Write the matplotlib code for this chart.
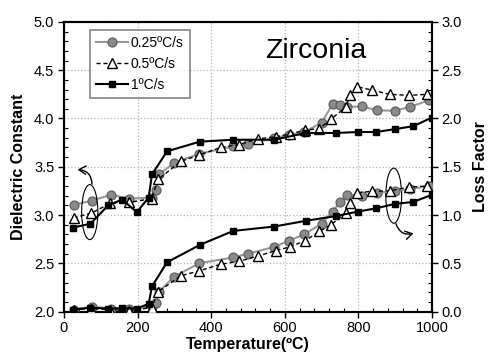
import matplotlib
matplotlib.use("Agg")
import matplotlib.pyplot as plt
from matplotlib.patches import Ellipse, FancyArrowPatch
from matplotlib.ticker import MultipleLocator, FormatStrFormatter
from matplotlib.lines import Line2D

plt.rcParams['font.family'] = ['Liberation Sans', 'DejaVu Sans']

# 0.25 C/s (circles)
t_025 = [26, 77, 128, 177, 238, 250, 258, 299, 368, 459, 501, 572, 612, 653, 700, 730, 750, 768, 810, 850, 899, 940, 993]
eps_025 = [3.105, 3.15, 3.21, 3.17, 3.18, 3.26, 3.42, 3.54, 3.635, 3.71, 3.74, 3.795, 3.83, 3.86, 3.955, 4.15, 4.135, 4.12, 4.125, 4.085, 4.08, 4.12, 4.19]
loss_025 = [0.02, 0.05, 0.03, 0.03, 0.05, 0.09, 0.205, 0.36, 0.50, 0.56, 0.60, 0.67, 0.735, 0.80, 0.91, 1.035, 1.13, 1.21, 1.20, 1.23, 1.245, 1.27, 1.30]

# 0.5 C/s (triangles)
t_05 = [26, 74, 126, 176, 238, 256, 317, 366, 426, 476, 527, 575, 614, 656, 694, 726, 767, 776, 796, 836, 885, 938, 987]
eps_05 = [2.97, 3.02, 3.12, 3.13, 3.17, 3.37, 3.555, 3.62, 3.70, 3.73, 3.79, 3.81, 3.84, 3.88, 3.895, 3.995, 4.12, 4.245, 4.33, 4.295, 4.25, 4.24, 4.25]
loss_05 = [0.02, 0.03, 0.02, 0.01, 0.04, 0.205, 0.37, 0.42, 0.49, 0.52, 0.575, 0.63, 0.67, 0.735, 0.83, 0.90, 1.025, 1.12, 1.23, 1.245, 1.25, 1.29, 1.30]

# 1 C/s (squares)
t_1 = [25, 72, 120, 158, 198, 230, 239, 280, 369, 460, 570, 658, 740, 799, 849, 899, 949, 1000]
eps_1 = [2.87, 2.91, 3.10, 3.16, 3.03, 3.18, 3.42, 3.66, 3.76, 3.78, 3.78, 3.85, 3.85, 3.86, 3.86, 3.89, 3.92, 4.01]
loss_1 = [0.02, 0.04, 0.03, 0.035, 0.03, 0.08, 0.26, 0.51, 0.69, 0.835, 0.88, 0.94, 0.99, 1.035, 1.07, 1.115, 1.135, 1.21]

labels = ['0.25ºC/s', '0.5ºC/s', '1ºC/s']

fig = plt.figure(figsize=(5.0, 3.64), dpi=100)
ax = fig.add_axes([0.128, 0.1442, 0.736, 0.7954])
ax2 = ax.twinx()

gray_line = '#999999'
gray_fill = '#8a8a8a'
gray_edge = '#5a5a5a'

sty_025 = dict(color=gray_line, lw=1.5, marker='o', ms=6.5, mfc=gray_fill, mec=gray_edge, mew=0.8)
sty_05 = dict(color='black', lw=1.0, ls=(0, (3, 2)), marker='^', ms=6.5, mfc='white', mec='black', mew=1.0)
sty_1 = dict(color='black', lw=1.5, marker='s', ms=5, mfc='black', mec='black')

for a, e025, e05, e1 in [(ax, eps_025, eps_05, eps_1), (ax2, loss_025, loss_05, loss_1)]:
    a.plot(t_025, e025, zorder=3, **sty_025)
    a.plot(t_05, e05, zorder=4, **sty_05)
    a.plot(t_1, e1, zorder=5, **sty_1)

ax.set_xlim(0, 1000)
ax.set_ylim(2.0, 5.0)
ax2.set_ylim(0.0, 3.0)

ax.xaxis.set_major_locator(MultipleLocator(200))
ax.xaxis.set_minor_locator(MultipleLocator(40))
ax.yaxis.set_major_locator(MultipleLocator(0.5))
ax.yaxis.set_minor_locator(MultipleLocator(0.1))
ax2.yaxis.set_major_locator(MultipleLocator(0.5))
ax2.yaxis.set_minor_locator(MultipleLocator(0.1))
ax.yaxis.set_major_formatter(FormatStrFormatter('%.1f'))
ax2.yaxis.set_major_formatter(FormatStrFormatter('%.1f'))

for a in (ax, ax2):
    a.tick_params(which='major', direction='out', length=4, width=1, labelsize=10.5, pad=3)
    a.tick_params(which='minor', direction='in', length=3, width=0.8)
    for s in a.spines.values():
        s.set_linewidth(1.5)

ax.grid(True, which='major', ls=':', color='#b5b5b5', lw=0.9)
ax.set_axisbelow(True)

ax.set_xlabel('Temperature(ºC)', fontsize=11.5, fontweight='bold', labelpad=1)
ax.set_ylabel('Dielectric Constant', fontsize=11.5, fontweight='bold', labelpad=6)
ax2.set_ylabel('Loss Factor', fontsize=11.5, fontweight='bold', labelpad=8)

ax.text(685, 4.70, 'Zirconia', fontsize=20.5, ha='center', va='center')

handles = [Line2D([], [], **sty_025), Line2D([], [], **sty_05), Line2D([], [], **sty_1)]
leg = ax2.legend(handles, labels, loc='upper left', bbox_to_anchor=(0.07, 0.972), borderaxespad=0,
                 fontsize=10, frameon=True, fancybox=False, handlelength=2.3, handletextpad=0.2,
                 labelspacing=0.5, borderpad=0.45)
leg.get_frame().set_edgecolor('#666666')
leg.get_frame().set_linewidth(1.2)

# ellipses and arrows
ax.add_patch(Ellipse((70, 3.03), 44, 0.57, fill=False, ec='black', lw=0.8, zorder=6))
ax.add_patch(Ellipse((896, 3.20), 43, 0.57, fill=False, ec='black', lw=0.8, zorder=6))
ax.add_patch(FancyArrowPatch((76, 3.32), (37, 3.47), connectionstyle='arc3,rad=0.45',
                             arrowstyle='->,head_length=0.5,head_width=0.3', mutation_scale=10,
                             lw=1.0, color='black', zorder=6, shrinkA=0, shrinkB=0))
ax.add_patch(FancyArrowPatch((902, 2.91), (950, 2.81), connectionstyle='arc3,rad=0.45',
                             arrowstyle='->,head_length=0.5,head_width=0.3', mutation_scale=10,
                             lw=1.0, color='black', zorder=6, shrinkA=0, shrinkB=0))

fig.savefig('out.png', dpi=100)
